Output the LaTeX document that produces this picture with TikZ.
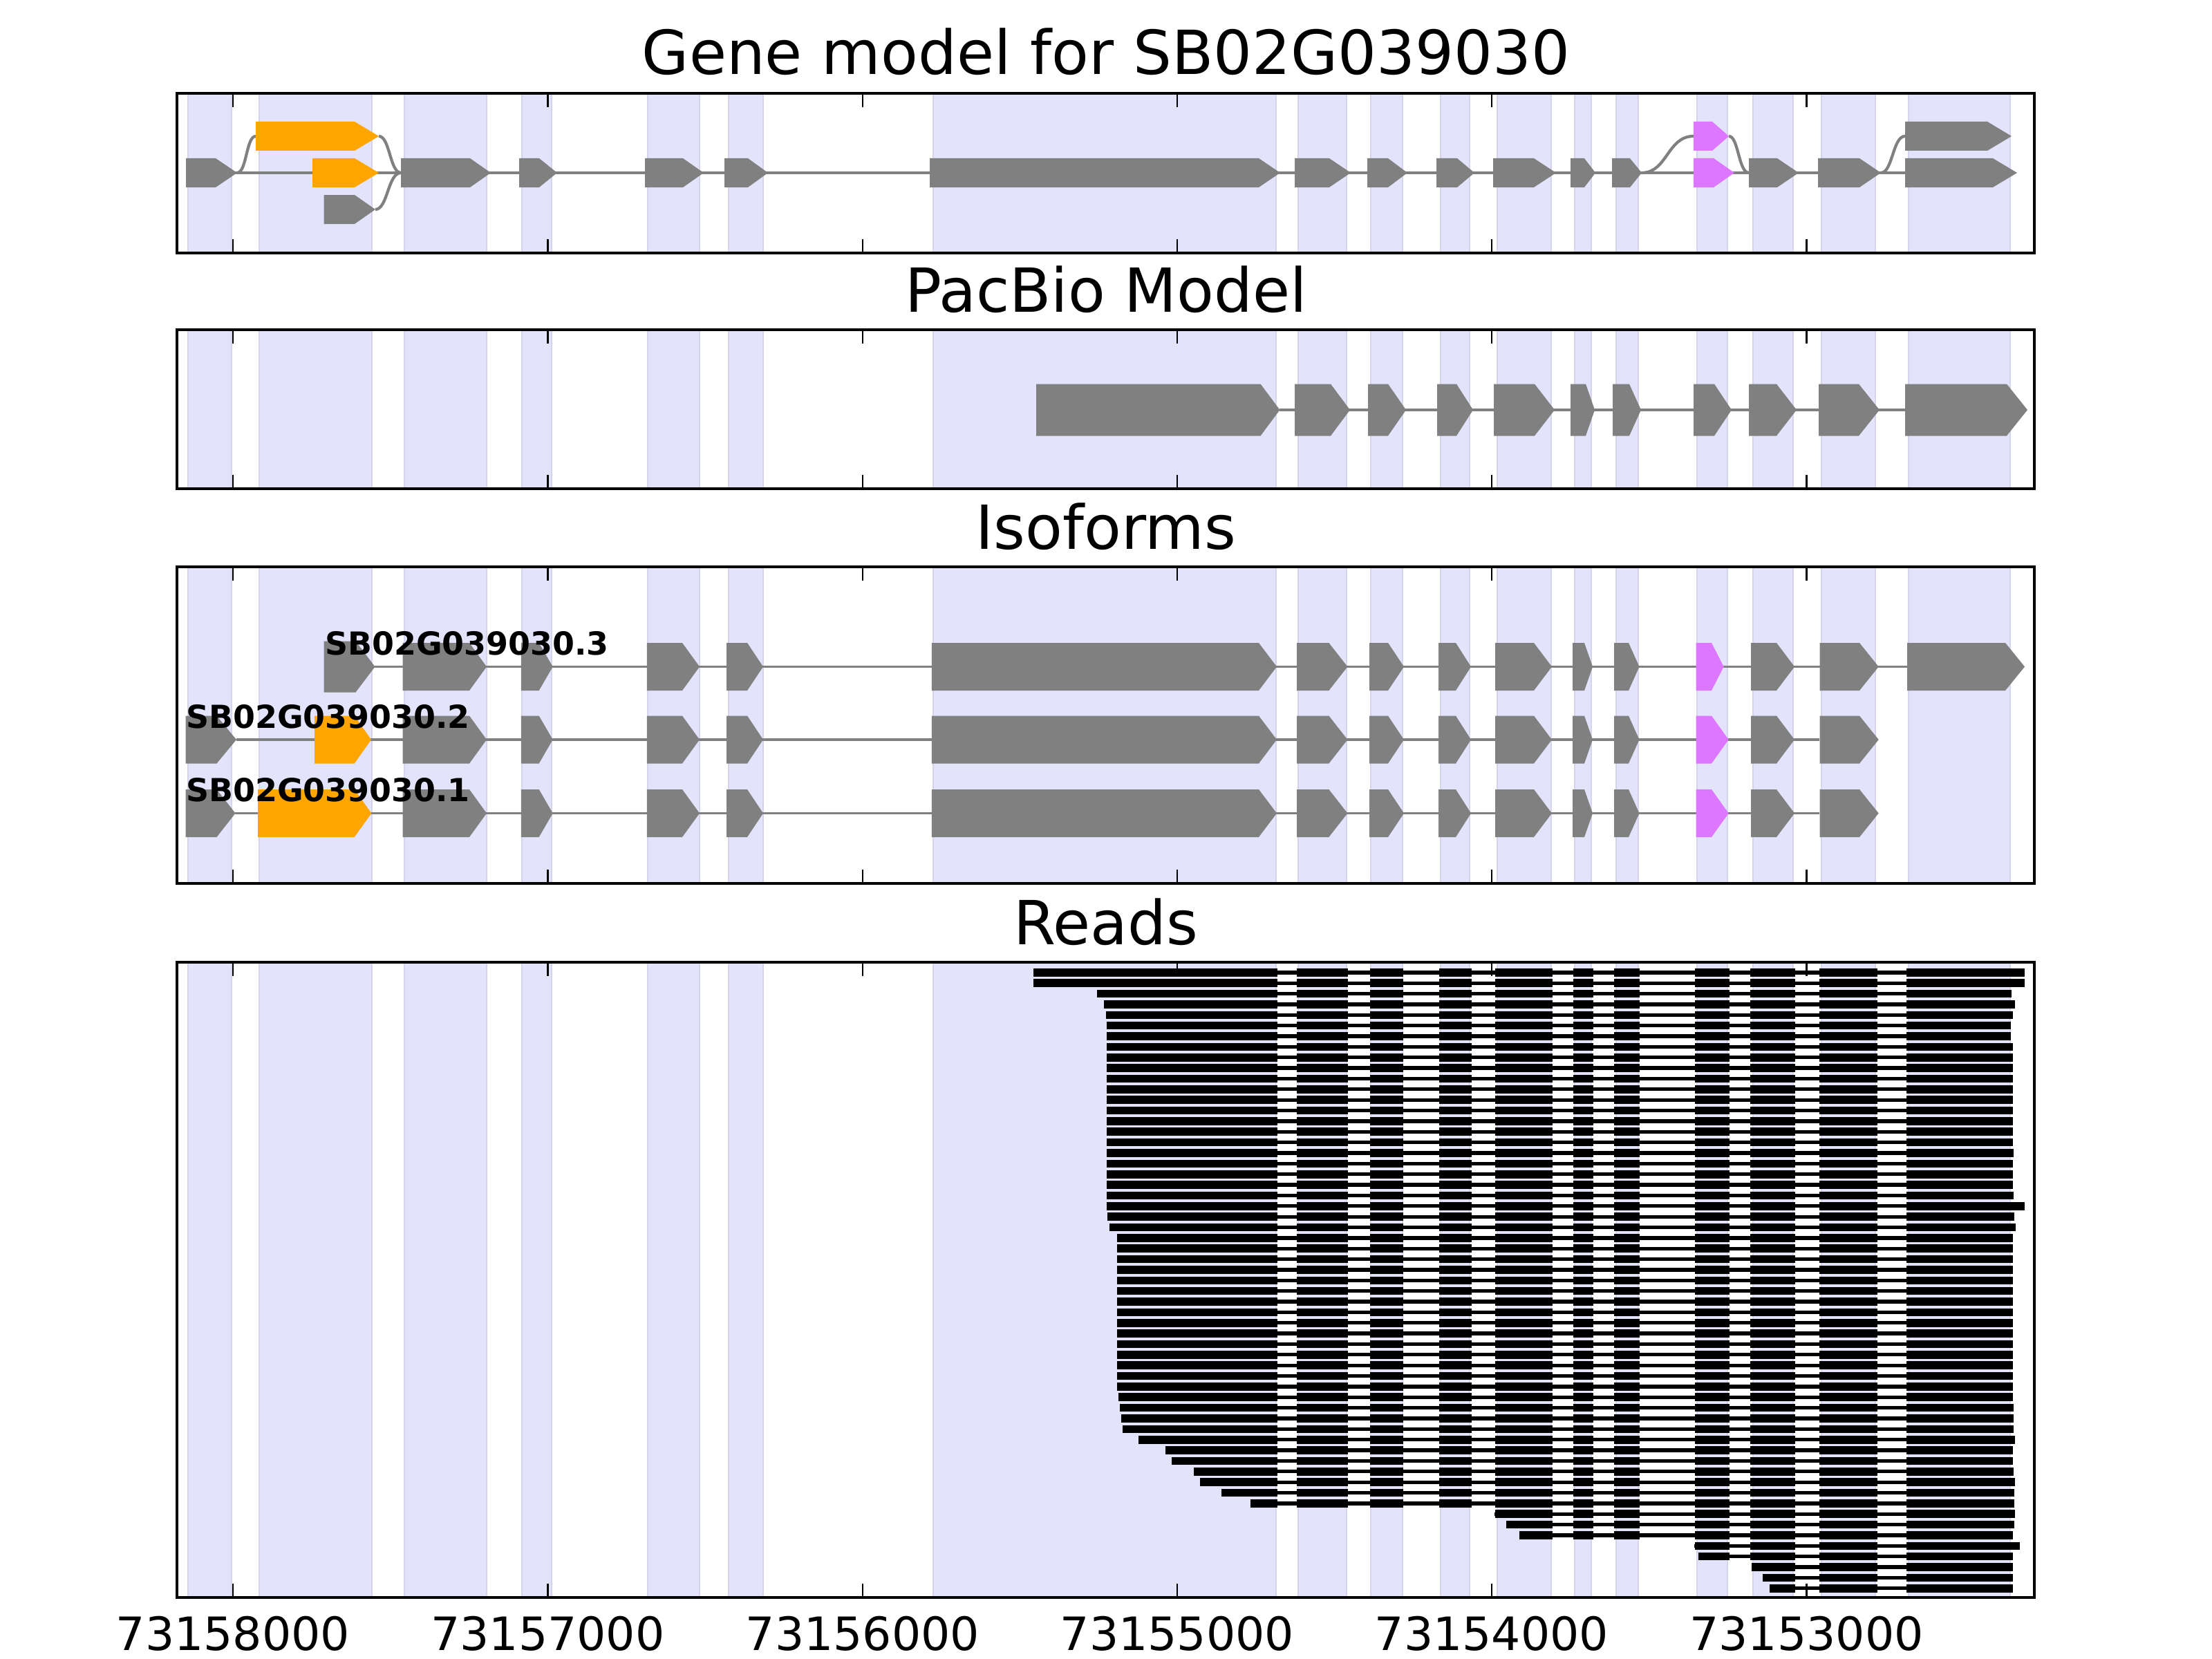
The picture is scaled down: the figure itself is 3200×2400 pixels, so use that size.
\documentclass[tikz,border=0pt]{standalone}
\usepackage{fontspec}
\setmainfont{DejaVu Sans}
\definecolor{bandfill}{RGB}{227,227,252}
\definecolor{bandedge}{RGB}{212,212,234}
\definecolor{exgray}{RGB}{128,128,128}
\definecolor{exorange}{RGB}{255,165,0}
\definecolor{expink}{RGB}{221,119,255}
% exon arrow: x1, tip x, y centre, half height, tip length, colour
\newcommand{\exn}[6]{\fill[fill=#6] (#1,{#3-#4}) -- ({#2-#5},{#3-#4}) -- (#2,#3) -- ({#2-#5},{#3+#4}) -- (#1,{#3+#4}) -- cycle;}
\begin{document}
\begin{tikzpicture}[x=0.01cm,y=-0.01cm]
\tikzset{
 bandbox/.style={fill=bandfill, draw=bandedge, line width=0.55pt},
 frame/.style={draw=black, line width=1.15pt},
 tickmark/.style={draw=black, line width=0.65pt},
 ptitle/.style={anchor=base, inner sep=0pt, font=\fontsize{25}{30}\selectfont},
 ticklabel/.style={anchor=base, inner sep=0pt, font=\fontsize{18.9}{22}\selectfont},
 isolabel/.style={anchor=base west, inner sep=0pt, font=\bfseries\fontsize{13.05}{15}\selectfont},
 intron/.style={draw=exgray, line width=1.2pt},
 readline/.style={draw=black, line width=1.5pt},
}
\useasboundingbox (0,0) rectangle (3200,2400);
\fill[white] (0,0) rectangle (3200,2400);

% ---------- exon bands in all panels ----------
\foreach \pt/\pb in {135/366, 477/707, 820/1278, 1392/2311}{
  \foreach \xa/\xb in {272/335, 375/538, 585/704, 755/798, 937/1012, 1054/1104, 1350/1846, 1878/1948, 1983/2029, 2084/2126, 2166/2244, 2278/2302, 2338/2370, 2455/2499, 2536/2594, 2635/2713, 2761/2908}{
    \filldraw[bandbox] (\xa,\pt) rectangle (\xb,\pb);
  }
}

% ---------- panel 1: gene model ----------
\draw[intron] (269,250) -- (2756,250);
\draw[intron] (343,250) .. controls (357,250) and (356,197) .. (370,197);
\draw[intron] (548,197) .. controls (564,197) and (564,250) .. (580,250);
\draw[intron] (543,303) .. controls (561,303) and (561,250) .. (580,250);
\draw[intron] (2375,250) .. controls (2412,250) and (2412,197) .. (2450,197);
\draw[intron] (2501,197) .. controls (2515,197) and (2515,250) .. (2530,250);
\draw[intron] (2721,250) .. controls (2738,250) and (2738,197) .. (2756,197);
\foreach \xa/\xb/\tp/\cc in {269/343/31/exgray, 452/548/35/exorange, 580/710/30/exgray, 751/806/26/exgray, 933/1018/30/exgray, 1048/1111/29/exgray, 1345/1852/31/exgray, 1873/1954/31/exgray, 1978/2036/28/exgray, 2078/2133/25/exgray, 2160/2251/32/exgray, 2272/2308/16/exgray, 2332/2375/17/exgray, 2450/2509/30/expink, 2530/2602/31/exgray, 2630/2721/31/exgray, 2756/2918/35/exgray}{
  \exn{\xa}{\xb}{250}{21}{\tp}{\cc}
}
\exn{370}{548}{197}{21}{35}{exorange}
\exn{2450}{2501}{197}{21}{24}{expink}
\exn{2756}{2910}{197}{21}{35}{exgray}
\exn{468.5}{543}{303}{21}{30}{exgray}

% ---------- panel 2: PacBio model ----------
\draw[intron, line width=0.9pt] (1851,593) -- (2756,593);
\foreach \xa/\xb/\tp in {1499/1851.5/28, 1873/1953/28, 1979/2034/26, 2079/2131/24, 2161/2249/29, 2272/2307/13, 2333/2374/17, 2450/2505/25, 2530/2599/29, 2631/2719/30, 2756/2933/30}{
  \exn{\xa}{\xb}{593}{37.5}{\tp}{exgray}
}

% ---------- panel 3: isoforms ----------
\draw[intron, line width=1.1pt] (542,964.5) -- (2759,964.5);
\draw[intron, line width=1.1pt] (342,1070) -- (2632,1070);
\draw[intron, line width=1.1pt] (340,1176.5) -- (2632,1176.5);
\foreach \yy in {964.5, 1070, 1176.5}{
  \foreach \xa/\xb/\tp in {582.7/704/25, 753.8/799.7/20, 935.8/1012/25, 1051/1104/23, 1347.8/1847/26, 1876/1949.4/27, 1981/2031/23, 2081/2128/22, 2163/2245/26, 2275/2304/12, 2335/2371.5/15.5, 2533/2596/26, 2632.6/2717.7/27.7}{
    \exn{\xa}{\xb}{\yy}{34.5}{\tp}{exgray}
  }
}
% isoform .3
\exn{468.5}{542.5}{964.5}{37}{28}{exgray}
\exn{2453.7}{2493.6}{964.5}{34.5}{17.6}{expink}
\exn{2759}{2929}{964.5}{34.5}{28}{exgray}
% isoform .2
\exn{268.7}{342}{1070}{34.5}{28.5}{exgray}
\exn{455}{537}{1070}{34.5}{24.3}{exorange}
\exn{2453.7}{2500.6}{1070}{34.5}{24.6}{expink}
% isoform .1
\exn{268.7}{340.5}{1176.5}{34.5}{27}{exgray}
\exn{373}{537.4}{1176.5}{34.5}{24.7}{exorange}
\exn{2453.7}{2500.6}{1176.5}{34.5}{24.6}{expink}
\node[isolabel] (lab3) at (469.5,947.5) {SB02G039030.3};
\node[isolabel] (lab2) at (268.5,1053) {SB02G039030.2};
\node[isolabel] (lab1) at (268.5,1159.5) {SB02G039030.1};

% ---------- panel 4: reads ----------
\foreach \ri/\ra/\rb in {1/1495/2929, 2/1495/2929, 3/1587/2910, 4/1597/2915, 5/1600/2912, 6/1601/2909, 7/1601/2909, 8/1601/2912, 9/1601/2912, 10/1601/2912, 11/1601/2912, 12/1601/2912, 13/1601/2912, 14/1601/2912, 15/1601/2912, 16/1601/2912, 17/1601/2912, 18/1601/2913, 19/1601/2912, 20/1601/2912, 21/1601/2912, 22/1601/2913, 23/1601/2929, 24/1602/2914, 25/1605/2916, 26/1616/2912, 27/1616/2912, 28/1616/2912, 29/1616/2912, 30/1616/2912, 31/1616/2912, 32/1616/2912, 33/1616/2912, 34/1616/2912, 35/1616/2912, 36/1616/2912, 37/1616/2912, 38/1616/2912, 39/1616/2912, 40/1616/2912, 41/1618/2912, 42/1620/2913, 43/1622/2913, 44/1624/2913, 45/1647/2915, 46/1686/2912, 47/1695/2912, 48/1727/2913, 49/1736/2915, 50/1767/2914, 51/1809/2914, 52/2162/2915, 53/2179/2914, 54/2198/2912, 55/2451/2922, 56/2457/2912, 57/2534/2912, 58/2550/2912, 59/2560/2912}{
  \pgfmathsetmacro{\ry}{1391.5+15.36*\ri}
  \draw[readline] (\ra,\ry) -- (\rb,\ry);
  \foreach \ba/\bb in {1300/1848, 1876/1950, 1982/2030, 2082/2129, 2163/2246, 2276/2305, 2335/2372, 2452/2502, 2532/2597, 2632/2716, 2758/3000}{
    \pgfmathsetmacro{\blo}{max(\ba,\ra)}
    \pgfmathsetmacro{\bhi}{min(\bb,\rb)}
    \pgfmathtruncatemacro{\bok}{\bhi>\blo}
    \ifnum\bok=1 \fill[black] (\blo,\ry-5.8) rectangle (\bhi,\ry+5.8); \fi
  }
}

% ---------- ticks and frames ----------
\foreach \pt/\pb in {135/366, 477/707, 820/1278, 1392/2311}{
  \foreach \tx in {337, 792.5, 1248, 1703, 2158, 2613.5}{
    \draw[tickmark] (\tx,\pt) -- (\tx,\pt+20);
    \draw[tickmark] (\tx,\pb) -- (\tx,\pb-20);
  }
  \draw[frame] (256,\pt) rectangle (2943,\pb);
}

% ---------- titles ----------
\node[ptitle] (t1) at (1600,108) {Gene model for SB02G039030};
\node[ptitle] (t2) at (1600,451) {PacBio Model};
\node[ptitle] (t3) at (1600,794) {Isoforms};
\node[ptitle] (t4) at (1600,1366) {Reads};

% ---------- tick labels ----------
\node[ticklabel] (x1) at (337,2387) {73158000};
\node[ticklabel] (x2) at (792.5,2387) {73157000};
\node[ticklabel] (x3) at (1248,2387) {73156000};
\node[ticklabel] (x4) at (1703,2387) {73155000};
\node[ticklabel] (x5) at (2158,2387) {73154000};
\node[ticklabel] (x6) at (2613.5,2387) {73153000};
\end{tikzpicture}
\end{document}
